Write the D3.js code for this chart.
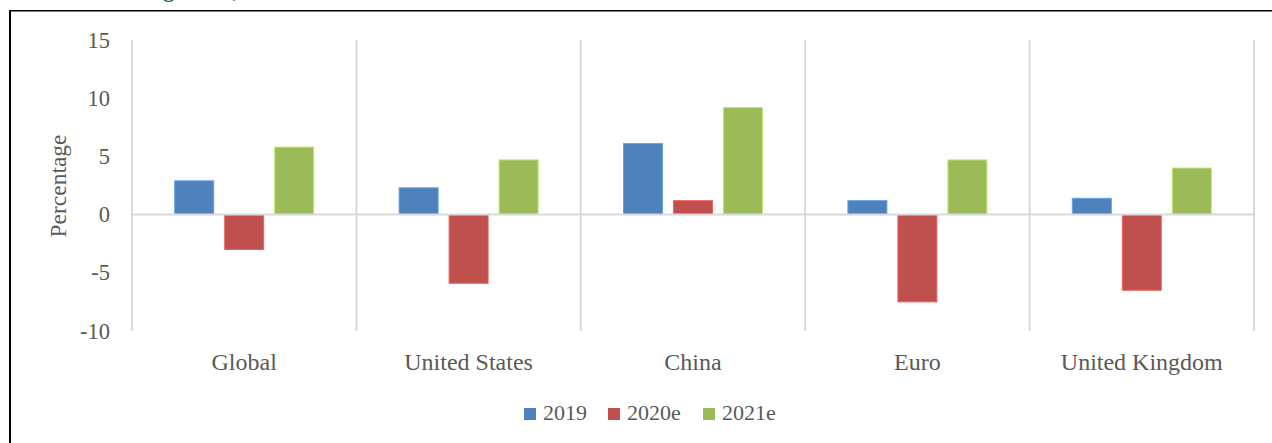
<!DOCTYPE html>
<html>
<head>
<meta charset="utf-8">
<script src="https://cdn.jsdelivr.net/npm/d3@7"></script>
<style>
  body { margin: 0; background: #fff; }
  svg { display: block; font-family: "Liberation Serif", "Times New Roman", serif; }
</style>
</head>
<body>
<div id="chart"></div>
<script>
// Chart data
const categories = ['Global', 'United States', 'China', 'Euro', 'United Kingdom'];
const seriesNames = ['2019', '2020e', '2021e'];
const values2019 = [2.9, 2.3, 6.1, 1.2, 1.4];
const values2020e = [-3.0, -5.9, 1.2, -7.5, -6.5];
const values2021e = [5.8, 4.7, 9.2, 4.7, 4.0];
const yTicks = [-10, -5, 0, 5, 10, 15];
const colors = ['#4F81BD', '#C0504D', '#9BBB59'];

const seriesValues = [values2019, values2020e, values2021e];

const width = 1272;
const height = 443;

const svg = d3
  .select('#chart')
  .append('svg')
  .attr('width', width)
  .attr('height', height);

// Frame (cropped figure box) and title fragment above it
svg
  .append('line')
  .attr('x1', 10).attr('x2', 10)
  .attr('y1', 10).attr('y2', height)
  .attr('stroke', '#000')
  .attr('stroke-width', 2);
svg
  .append('line')
  .attr('x1', 10).attr('x2', width)
  .attr('y1', 10.75).attr('y2', 10.75)
  .attr('stroke', '#000')
  .attr('stroke-width', 1.5);

// Only the descenders of the title show above the frame
svg
  .append('text')
  .attr('x', 156)
  .attr('y', -3)
  .attr('text-anchor', 'end')
  .style('font-size', '23px')
  .style('font-weight', 'bold')
  .attr('fill', '#1F6B6B')
  .text('Real GDP');
svg
  .append('text')
  .attr('x', 163)
  .attr('y', -3)
  .style('font-size', '23px')
  .style('font-weight', 'bold')
  .attr('fill', '#1F6B6B')
  .text('growth, 2019–2021e');

// Scales
const y = d3.scaleLinear().domain([-10, 15]).range([331, 40]);
const x0 = d3.scaleBand().domain(categories).range([132, 1254]).padding(0);
const x1 = d3
  .scaleBand()
  .domain(seriesNames)
  .range([42.7, x0.bandwidth() - 42.7])
  .paddingInner(0.22);

// Category separators
const sepX = categories.map((c) => x0(c)).concat([x0.range()[1]]);
svg
  .selectAll('.sep')
  .data(sepX)
  .enter()
  .append('line')
  .attr('class', 'sep')
  .attr('x1', (d) => d)
  .attr('x2', (d) => d)
  .attr('y1', y(15))
  .attr('y2', y(-10))
  .attr('stroke', '#D9D9D9')
  .attr('stroke-width', 2);

// Y tick labels
svg
  .selectAll('.ytick')
  .data(yTicks)
  .enter()
  .append('text')
  .attr('class', 'ytick')
  .attr('x', 110)
  .attr('y', (d) => y(d))
  .attr('dy', '0.34em')
  .attr('text-anchor', 'end')
  .attr('fill', '#595959')
  .style('font-size', '22.5px')
  .text((d) => d);

// Y axis title
svg
  .append('text')
  .attr('transform', 'translate(66,186) rotate(-90)')
  .attr('text-anchor', 'middle')
  .attr('fill', '#595959')
  .style('font-size', '23.5px')
  .text('Percentage');

// Bars
const groups = svg
  .selectAll('.group')
  .data(categories)
  .enter()
  .append('g')
  .attr('class', 'group')
  .attr('transform', (d) => `translate(${x0(d)},0)`);

groups
  .selectAll('rect')
  .data((c, ci) =>
    seriesNames.map((s, si) => ({ s: s, si: si, v: seriesValues[si][ci] })),
  )
  .enter()
  .append('rect')
  .attr('x', (d) => x1(d.s))
  .attr('width', x1.bandwidth())
  .attr('y', (d) => y(Math.max(0, d.v)))
  .attr('height', (d) => Math.abs(y(d.v) - y(0)))
  .attr('fill', (d) => colors[d.si])
  .attr('stroke', (d) => d3.color(colors[d.si]).brighter(0.6))
  .attr('stroke-width', 1);

// Zero line
svg
  .append('line')
  .attr('x1', x0.range()[0])
  .attr('x2', x0.range()[1])
  .attr('y1', y(0))
  .attr('y2', y(0))
  .attr('stroke', '#D9D9D9')
  .attr('stroke-width', 2);

// Category labels
svg
  .selectAll('.xlabel')
  .data(categories)
  .enter()
  .append('text')
  .attr('class', 'xlabel')
  .attr('x', (d) => x0(d) + x0.bandwidth() / 2)
  .attr('y', 370)
  .attr('text-anchor', 'middle')
  .attr('fill', '#595959')
  .style('font-size', '24px')
  .text((d) => d);

// Legend
const legendX = [524, 608, 703];
const legend = svg
  .selectAll('.legend')
  .data(seriesNames)
  .enter()
  .append('g')
  .attr('class', 'legend')
  .attr('transform', (d, i) => `translate(${legendX[i]},408)`);

legend
  .append('rect')
  .attr('width', 12)
  .attr('height', 12)
  .attr('fill', (d, i) => colors[i]);

legend
  .append('text')
  .attr('x', 19)
  .attr('y', 12)
  .attr('fill', '#595959')
  .style('font-size', '22px')
  .text((d) => d);
</script>
</body>
</html>
